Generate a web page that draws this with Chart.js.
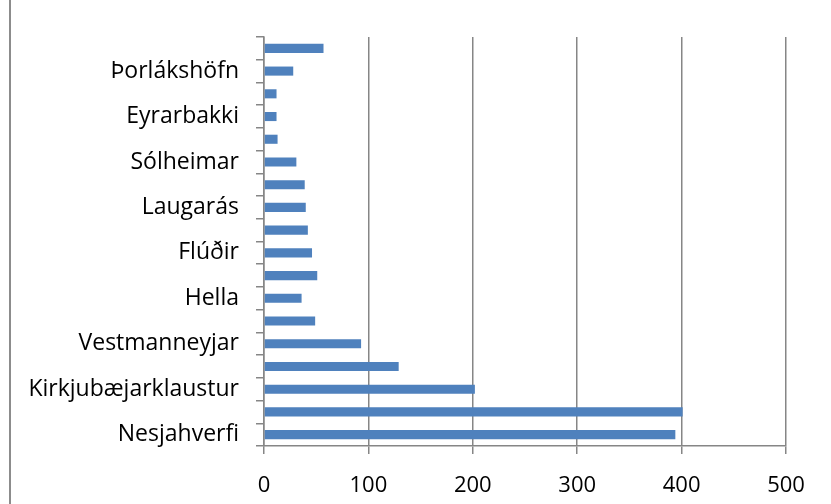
<!DOCTYPE html>
<html>
<head>
<meta charset="utf-8">
<script src="https://cdn.jsdelivr.net/npm/chart.js@4"></script>
<style>
  html, body { margin: 0; padding: 0; background: #fff; }
  #wrap { width: 831px; height: 504px; }
</style>
</head>
<body>
<div id="wrap"><canvas id="canvas"></canvas></div>
<script>
// categories listed top to bottom; unlabeled rows were skipped in the original axis
const places = ['', 'Þorlákshöfn', '', 'Eyrarbakki', '', 'Sólheimar', '', 'Laugarás', '',
  'Flúðir', '', 'Hella', '', 'Vestmanneyjar', '', 'Kirkjubæjarklaustur', '', 'Nesjahverfi'];
const counts = [57, 28, 12, 12, 13, 31, 39, 40, 42, 46, 51, 36, 49, 93, 129, 202, 401, 394];
const xTicks = [0, 100, 200, 300, 400, 500];

const gray = '#868686';

const frameLine = {
  id: 'frameLine',
  beforeDraw(chart) {
    const ctx = chart.ctx;
    ctx.save();
    ctx.strokeStyle = '#8c8c8c';
    ctx.lineWidth = 2;
    ctx.beginPath();
    ctx.moveTo(10, 0);
    ctx.lineTo(10, 504);
    ctx.stroke();
    ctx.restore();
  }
};

new Chart(document.getElementById('canvas'), {
  type: 'bar',
  data: {
    labels: places,
    datasets: [{
      data: counts,
      backgroundColor: '#4F81BD',
      barPercentage: 0.4,
      categoryPercentage: 1
    }]
  },
  options: {
    indexAxis: 'y',
    responsive: true,
    maintainAspectRatio: false,
    animation: false,
    layout: { padding: { left: 0, right: 45, top: 37, bottom: 0 } },
    plugins: { legend: { display: false }, tooltip: { enabled: false } },
    scales: {
      x: {
        min: 0,
        max: 500,
        afterBuildTicks: (s) => { s.ticks = xTicks.map(v => ({ value: v })); },
        afterFit: (s) => { s.height = 58; },
        grid: { color: gray, lineWidth: 1.5, tickLength: 8 },
        border: { color: gray, width: 1.5 },
        ticks: { color: '#000', padding: 19, font: { family: 'Open Sans', size: 22 } }
      },
      y: {
        afterFit: (s) => { s.width = 264; },
        grid: { drawOnChartArea: false, color: gray, lineWidth: 1.5, tickLength: 8, offset: true },
        border: { color: gray, width: 1.5 },
        ticks: { color: '#000', padding: 17, autoSkip: false, font: { family: 'Open Sans', size: 23 } }
      }
    }
  },
  plugins: [frameLine]
});
</script>
</body>
</html>
